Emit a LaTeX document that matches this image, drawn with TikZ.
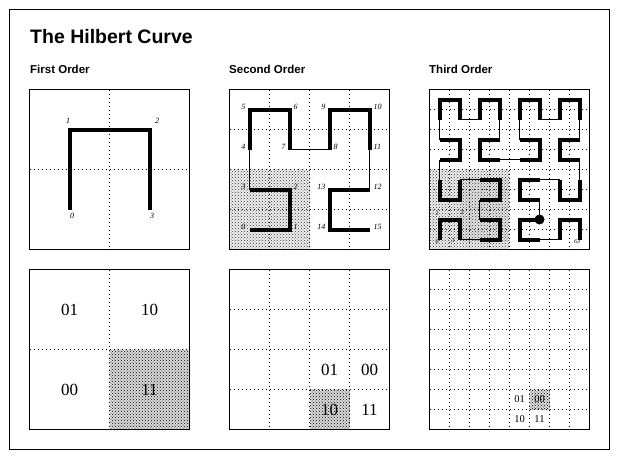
\documentclass[tikz,border=0pt]{standalone}
\usepackage{fontspec}
\setmainfont{Liberation Serif}
\setsansfont{Liberation Sans}
\usetikzlibrary{patterns}

\begin{document}
\begin{tikzpicture}[x=1pt,y=-1pt,
    frame/.style={draw=black, line width=1pt},
    gridline/.style={line width=0.9pt, dash pattern=on 0.9pt off 3.1pt},
    thickline/.style={line width=4pt, line join=miter},
    thinline/.style={line width=1pt},
    lightshade/.style={preaction={fill=gray!12}, pattern=crosshatch dots, pattern color=black!80},
    denseshade/.style={preaction={fill=gray!22}, pattern=crosshatch dots, pattern color=black!80},
    darkshade/.style={preaction={fill=gray!28}, pattern=crosshatch dots, pattern color=black},
    num/.style={font=\fontsize{8}{8}\selectfont\itshape, inner sep=0pt},
    tinynum/.style={font=\fontsize{6}{6}\selectfont\itshape, inner sep=0pt},
    code/.style={font=\fontsize{17}{17}\selectfont, inner sep=0pt},
    smallcode/.style={font=\fontsize{10.5}{10.5}\selectfont, inner sep=0pt},
    heading/.style={font=\sffamily\bfseries\fontsize{11.5}{11.5}\selectfont, anchor=base west, inner sep=0pt},
    bigdot/.style={circle, fill=black, inner sep=0pt, minimum size=10pt}]
\useasboundingbox (0,0) rectangle (621,461);
\draw[line width=1pt] (9.5,9.5) rectangle (609.5,449.5);

\node[font=\sffamily\bfseries\fontsize{19.5}{19.5}\selectfont, anchor=base west, inner sep=0pt] (title) at (30,43.5) {The Hilbert Curve};
\node[heading] (first) at (30,73.5) {First Order};
\node[heading] (second) at (229,73.5) {Second Order};
\node[heading] (third) at (429,73.5) {Third Order};

% shaded quadrants
\fill[lightshade] (229.5,169.5) rectangle (309.5,249.5);
\fill[lightshade] (429.5,169.5) rectangle (509.5,249.5);
\fill[denseshade] (459.5,177.5) rectangle (507.5,241.5);
\fill[darkshade] (109.5,349.5) rectangle (189.5,429.5);
\fill[darkshade] (309.5,389.5) rectangle (349.5,429.5);
\fill[darkshade] (529.5,389.5) rectangle (549.5,409.5);

% panels and dotted grids
\foreach \px/\py/\n in {29.5/89.5/2, 229.5/89.5/4, 429.5/89.5/8, 29.5/269.5/2, 229.5/269.5/4, 429.5/269.5/8}{
    \pgfmathtruncatemacro\m{\n-1}
    \foreach \k in {1,...,\m}{
        \draw[gridline] ({\px+\k*160/\n},\py) -- ({\px+\k*160/\n},\py+160);
        \draw[gridline] (\px,{\py+\k*160/\n}) -- (\px+160,{\py+\k*160/\n});
    }
    \draw[frame] (\px,\py) rectangle +(160,160);
}

% first order
\coordinate (a0) at (69.5,209.5);
\coordinate (a1) at (69.5,129.5);
\coordinate (a2) at (149.5,129.5);
\coordinate (a3) at (149.5,209.5);
\draw[thickline] (a0) -- (a1) -- (a2) -- (a3);
\node[num] (na0) at (72,216) {0};
\node[num] (na1) at (68,121) {1};
\node[num] (na2) at (157,121) {2};
\node[num] (na3) at (152,216) {3};

% second order
\foreach \x/\y [count=\i from 0] in {0/0,1/0,1/1,0/1,0/2,0/3,1/3,1/2,2/2,2/3,3/3,3/2,3/1,2/1,2/0,3/0}
    \coordinate (b\i) at ({249.5+40*\x},{229.5-40*\y});
\foreach \k in {0,...,3}{
    \pgfmathtruncatemacro\s{4*\k}
    \pgfmathtruncatemacro\t{4*\k+1}
    \pgfmathtruncatemacro\u{4*\k+2}
    \pgfmathtruncatemacro\v{4*\k+3}
    \draw[thickline] (b\s) -- (b\t) -- (b\u) -- (b\v);
}
\foreach \k in {0,...,2}{
    \pgfmathtruncatemacro\s{4*\k+3}
    \pgfmathtruncatemacro\t{4*\k+4}
    \draw[thinline] (b\s) -- (b\t);
}
\foreach \i in {0,3,4,5,7,9,13,14}
    \node[num, anchor=east] (nb\i) at ([xshift=-4pt,yshift=3pt]b\i) {\i};
\foreach \i in {1,2,6,8,10,11,12,15}
    \node[num, anchor=west] (nb\i) at ([xshift=4pt,yshift=3pt]b\i) {\i};

% third order
\foreach \x/\y [count=\i from 0] in {0/0,0/1,1/1,1/0, 2/0,3/0,3/1,2/1, 2/2,3/2,3/3,2/3, 1/3,1/2,0/2,0/3,
        0/4,1/4,1/5,0/5, 0/6,0/7,1/7,1/6, 2/6,2/7,3/7,3/6, 3/5,2/5,2/4,3/4,
        4/4,5/4,5/5,4/5, 4/6,4/7,5/7,5/6, 6/6,6/7,7/7,7/6, 7/5,6/5,6/4,7/4,
        7/3,7/2,6/2,6/3, 5/3,4/3,4/2,5/2, 5/1,4/1,4/0,5/0, 6/0,6/1,7/1,7/0}
    \coordinate (c\i) at ({439.5+20*\x},{239.5-20*\y});
\foreach \k in {0,...,15}{
    \pgfmathtruncatemacro\s{4*\k}
    \pgfmathtruncatemacro\t{4*\k+1}
    \pgfmathtruncatemacro\u{4*\k+2}
    \pgfmathtruncatemacro\v{4*\k+3}
    \draw[thickline] (c\s) -- (c\t) -- (c\u) -- (c\v);
}
\foreach \k in {0,...,14}{
    \pgfmathtruncatemacro\s{4*\k+3}
    \pgfmathtruncatemacro\t{4*\k+4}
    \draw[thinline] (c\s) -- (c\t);
}
\node[bigdot] (cur) at (c56) {};
\node[tinynum] (nc0) at (437,242) {0};
\node[tinynum] (nc1) at (437,214) {1};
\node[tinynum] (nc2) at (462,213) {2};
\node[tinynum] (nc3) at (453,241) {3};
\node[tinynum] (nc63) at (577,242) {63};

% quadrant codes
\node[code] (q01) at (69.5,309.5) {01};
\node[code] (q10) at (149.5,309.5) {10};
\node[code] (q00) at (69.5,389.5) {00};
\node[code] (q11) at (149.5,389.5) {11};

\node[code] (r01) at (329.5,369.5) {01};
\node[code] (r00) at (369.5,369.5) {00};
\node[code] (r10) at (329.5,409.5) {10};
\node[code] (r11) at (369.5,409.5) {11};

\node[smallcode] (s01) at (519.5,399.5) {01};
\node[smallcode] (s00) at (539.5,399.5) {00};
\node[smallcode] (s10) at (519.5,419.5) {10};
\node[smallcode] (s11) at (539.5,419.5) {11};
\end{tikzpicture}
\end{document}
